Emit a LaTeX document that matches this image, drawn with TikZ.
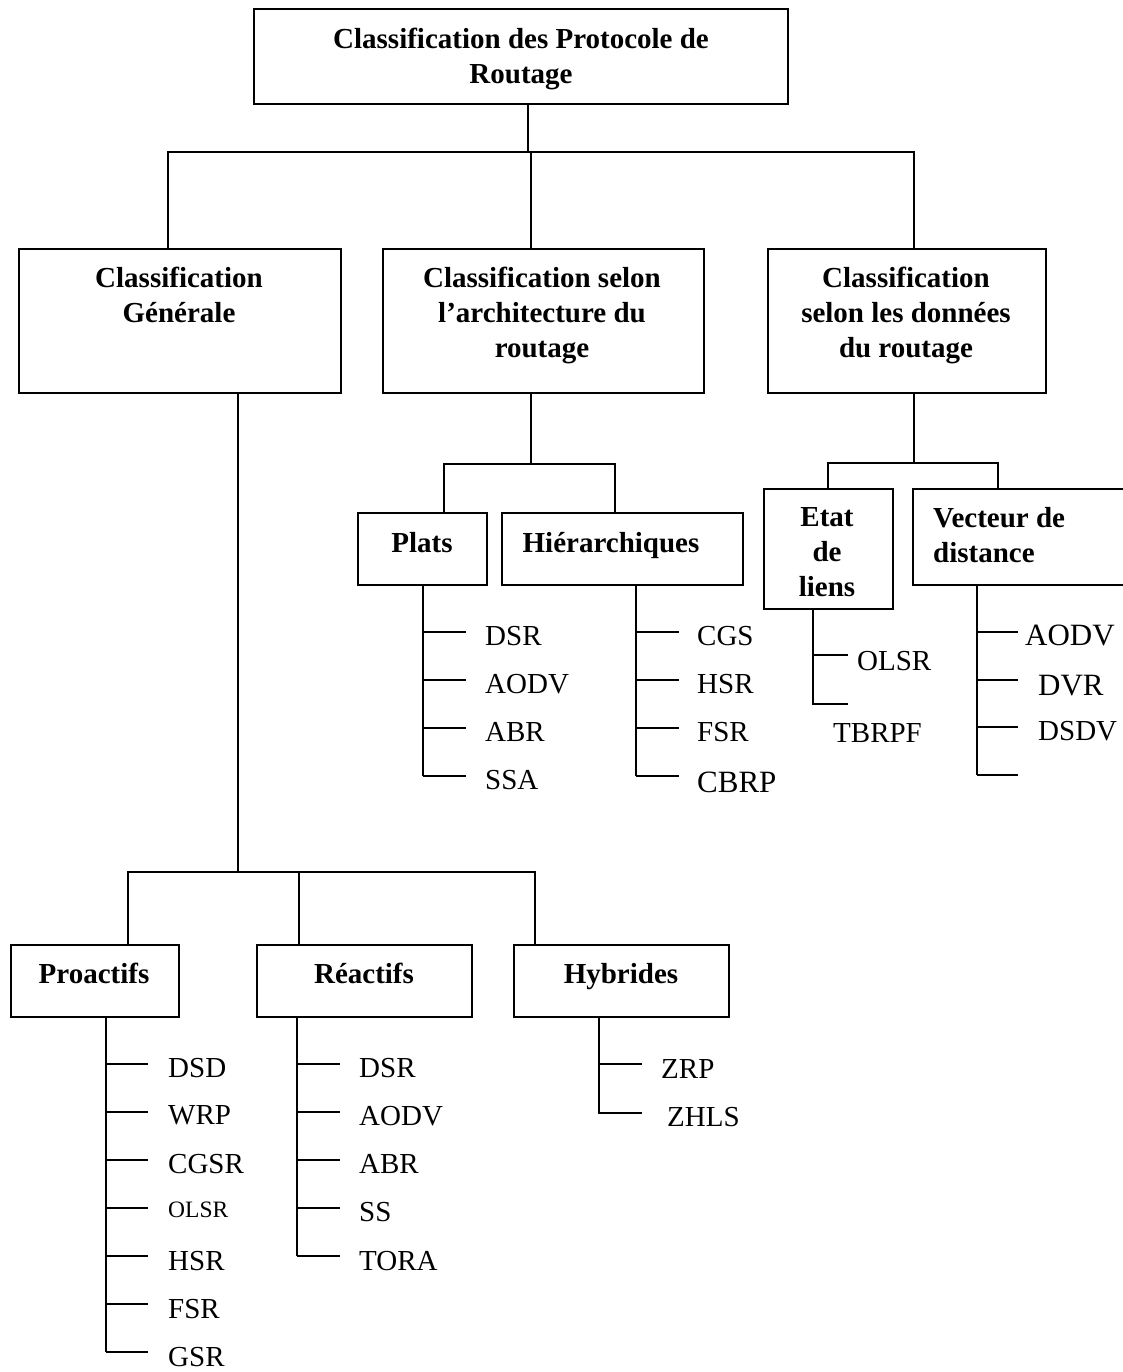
\documentclass[tikz,border=0pt]{standalone}
\usepackage{fontspec}
\setmainfont{Liberation Serif}
\begin{document}
\begin{tikzpicture}[x=1pt,y=-1pt,
  box/.style={draw,line width=2.3pt,inner sep=0pt,anchor=north west},
  head/.style={font=\fontsize{29}{35}\selectfont\bfseries,align=center,inner sep=0pt,anchor=north},
  wire/.style={line width=2pt},
  item/.style={font=\fontsize{29}{35}\selectfont,inner sep=0pt,anchor=base west}]
\useasboundingbox (0,0) rectangle (1123,1372);

% ---------- boxes ----------
\node[box,minimum width=534,minimum height=95] (root) at (253,8) {};
\node[head] (rootT) at (521,28) {Classification des Protocole de\\Routage};

\node[box,minimum width=322,minimum height=144] (gen) at (18,248) {};
\node[head] (genT) at (179,267) {Classification\\Générale};
\node[box,minimum width=321,minimum height=144] (arch) at (382,248) {};
\node[head] (archT) at (542,267) {Classification selon\\l’architecture du\\routage};
\node[box,minimum width=278,minimum height=144] (data) at (767,248) {};
\node[head] (dataT) at (906,267) {Classification\\selon les données\\du routage};

\node[box,minimum width=129,minimum height=72] (plats) at (357,512) {};
\node[head] (platsT) at (422,532) {Plats};
\node[box,minimum width=241,minimum height=72] (hier) at (501,512) {};
\node[head] (hierT) at (611,532) {Hiérarchiques};

\node[box,minimum width=129,minimum height=120] (etat) at (763,488) {};
\node[head] (etatT) at (827,507) {Etat\\de\\liens};
\node[box,minimum width=211,minimum height=96] (vect) at (912,488) {};
\node[head,anchor=north west,align=left] (vectT) at (933,507) {Vecteur de\\distance};

\node[box,minimum width=168,minimum height=72] (pro) at (10,944) {};
\node[head] (proT) at (94,963) {Proactifs};
\node[box,minimum width=215,minimum height=72] (rea) at (256,944) {};
\node[head] (reaT) at (364,963) {Réactifs};
\node[box,minimum width=215,minimum height=72] (hyb) at (513,944) {};
\node[head] (hybT) at (621,963) {Hybrides};

% ---------- first level ----------
\coordinate (j0) at (528,152);
\coordinate (j0a) at (168,152);
\coordinate (j0b) at (531,152);
\coordinate (j0c) at (914,152);
\draw[wire] (root.south -| j0) -- (j0);
\draw[wire] (j0a |- gen.north) -- (j0a) -- (j0c) -- (j0c |- data.north);
\draw[wire] (j0b) -- (j0b |- arch.north);

% ---------- architecture ----------
\coordinate (j1) at (531,464);
\coordinate (j1a) at (444,464);
\coordinate (j1b) at (615,464);
\draw[wire] (arch.south -| j1) -- (j1);
\draw[wire] (j1a |- plats.north) -- (j1a) -- (j1b) -- (j1b |- hier.north);

\foreach \y/\t [count=\i] in {632/DSR,680/AODV,728/ABR,776/SSA}{
  \coordinate (pl\i) at (423,\y);
  \draw[wire] (pl\i) -- ++(43,0);
  \node[item] (plT\i) at (485,\y+13) {\t};
}
\draw[wire] (plats.south -| pl1) -- (pl4);

\foreach \y/\t [count=\i] in {632/CGS,680/HSR,728/FSR}{
  \coordinate (hi\i) at (636,\y);
  \draw[wire] (hi\i) -- ++(43,0);
  \node[item] (hiT\i) at (697,\y+13) {\t};
}
\coordinate (hi4) at (636,776);
\draw[wire] (hi4) -- ++(43,0);
\node[item,font=\fontsize{31}{35}\selectfont] (hiT4) at (697,792) {CBRP};
\draw[wire] (hier.south -| hi1) -- (hi4);

% ---------- routing data ----------
\coordinate (j3) at (914,463);
\coordinate (j3a) at (828,463);
\coordinate (j3b) at (998,463);
\draw[wire] (data.south -| j3) -- (j3);
\draw[wire] (j3a |- etat.north) -- (j3a) -- (j3b) -- (j3b |- vect.north);

\coordinate (et1) at (813,655);
\coordinate (et2) at (813,704);
\draw[wire] (etat.south -| et1) -- (et2) -- ++(35,0);
\draw[wire] (et1) -- ++(35,0);
\node[item] (etT1) at (857,670) {OLSR};
\node[item] (etT2) at (833,742) {TBRPF};

\coordinate (ve1) at (977,632);
\coordinate (ve2) at (977,680);
\coordinate (ve3) at (977,727);
\coordinate (ve4) at (977,775);
\draw[wire] (vect.south -| ve1) -- (ve4);
\foreach \i in {1,...,4}{\draw[wire] (ve\i) -- ++(41,0);}
\node[item,font=\fontsize{31}{35}\selectfont] (veT1) at (1025,645) {AODV};
\node[item,font=\fontsize{31}{35}\selectfont] (veT2) at (1038,695) {DVR};
\node[item] (veT3) at (1038,740) {DSDV};

% ---------- general classification ----------
\coordinate (j2) at (238,872);
\coordinate (j2a) at (128,872);
\coordinate (j2b) at (299,872);
\coordinate (j2c) at (535,872);
\draw[wire] (gen.south -| j2) -- (j2);
\draw[wire] (j2a |- pro.north) -- (j2a) -- (j2c) -- (j2c |- hyb.north);
\draw[wire] (j2b) -- (j2b |- rea.north);

\foreach \y/\t/\d [count=\i] in {1064/DSD/13,1112/WRP/12,1160/CGSR/13,1256/HSR/14,1304/FSR/14,1352/GSR/14}{
  \coordinate (pr\i) at (106,\y);
  \draw[wire] (pr\i) -- ++(42,0);
  \node[item] (prT\i) at (168,\y+\d) {\t};
}
\coordinate (prO) at (106,1208);
\draw[wire] (prO) -- ++(42,0);
\node[item,font=\fontsize{23.5}{28}\selectfont] (prTO) at (168,1217) {OLSR};
\draw[wire] (pro.south -| pr1) -- (pr6);

\foreach \y/\t/\d [count=\i] in {1064/DSR/13,1112/AODV/13,1160/ABR/13,1208/SS/13,1256/TORA/14}{
  \coordinate (re\i) at (297,\y);
  \draw[wire] (re\i) -- ++(43,0);
  \node[item] (reT\i) at (359,\y+\d) {\t};
}
\draw[wire] (rea.south -| re1) -- (re5);

\coordinate (hy1) at (599,1064);
\coordinate (hy2) at (599,1113);
\draw[wire] (hyb.south -| hy1) -- (hy2) -- ++(43,0);
\draw[wire] (hy1) -- ++(43,0);
\node[item] (hyT1) at (661,1078) {ZRP};
\node[item] (hyT2) at (667,1126) {ZHLS};
\end{tikzpicture}
\end{document}
